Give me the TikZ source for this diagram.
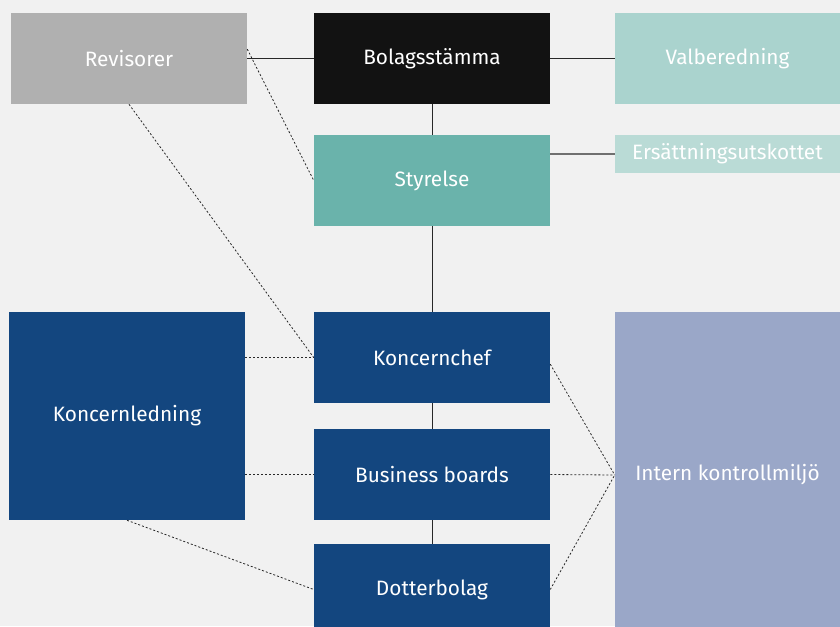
\documentclass[tikz,border=0pt]{standalone}
\usepackage{fontspec}
\setmainfont{Fira Sans}
\usepackage{xcolor}
\usepackage{tikz}
\usetikzlibrary{calc,positioning}

\definecolor{bgc}{RGB}{241,241,241}
\definecolor{revc}{RGB}{176,176,176}
\definecolor{bolc}{RGB}{18,18,18}
\definecolor{valc}{RGB}{170,211,206}
\definecolor{styc}{RGB}{106,179,171}
\definecolor{ersc}{RGB}{186,219,214}
\definecolor{navyc}{RGB}{19,70,127}
\definecolor{ikmc}{RGB}{154,167,200}

\tikzset{
  orgbox/.style={inner sep=0pt, minimum width=177pt, minimum height=68.25pt,
    text=white, font=\fontsize{15.6}{18}\selectfont},
  solidline/.style={draw={rgb,255:red,40;green,40;blue,40}, line width=0.75pt},
  greyline/.style={draw={rgb,255:red,112;green,112;blue,112}, line width=1.2pt},
  dotline/.style={draw={rgb,255:red,40;green,40;blue,40}, line width=0.6pt, dash pattern=on 1.5pt off 1.5pt}
}

\begin{document}
\begin{tikzpicture}[x=0.75pt,y=0.75pt,yscale=-1,xscale=1]
\clip (0,0) rectangle (840,626);
\fill [bgc] (0,0) rectangle (840,626);

%Shape: Rectangle [top row]
\node [orgbox, fill=revc] (rev) at (129,58.5) {Revisorer};
\node [orgbox, fill=bolc] (bol) at (432,58.5) {Bolagsstämma};
\node [orgbox, fill=valc, minimum width=168.75pt] (val) at (727.5,58.5) {Valberedning};
%Shape: Rectangle [board]
\node [orgbox, fill=styc] (sty) at (432,180.5) {Styrelse};
\node [orgbox, fill=ersc, minimum width=168.75pt, minimum height=28.5pt] (ers) at (727.5,154) {Ersättningsutskottet};
%Shape: Rectangle [management]
\node [orgbox, fill=navyc] (kch) at (432,357.5) {Koncernchef};
\node [orgbox, fill=navyc, minimum height=156pt] (kl) at (127,416) {Koncernledning};
\node [orgbox, fill=navyc] (bb) at (432,474.5) {Business boards};
\node [orgbox, fill=navyc] (dot) at (432,589.5) {Dotterbolag};
\node [orgbox, fill=ikmc, minimum width=168.75pt, minimum height=244.5pt] (ikm) at (727.5,475) {Intern kontrollmiljö};

%Straight Lines
\draw [solidline] (rev.east) -- (bol.west);
\draw [solidline] (bol.east) -- (val.west);
\draw [solidline] (bol.south) -- (sty.north);
\draw [greyline] (ers.west -| sty.east) -- (ers.west);
\draw [solidline] (sty.south) -- (kch.north);
\draw [solidline] (kch.south) -- (bb.north);
\draw [solidline] (bb.south) -- (dot.north);

%Dotted Lines
\draw [dotline] ([yshift=-7pt]rev.east) -- (sty.west);
\draw [dotline] (rev.south) -- (kch.west);
\draw [dotline] (kch.west -| kl.east) -- (kch.west);
\draw [dotline] (bb.west -| kl.east) -- (bb.west);
\draw [dotline] (kl.south) -- (dot.west);
\draw [dotline] ([yshift=5pt]kch.east) -- (ikm.west);
\draw [dotline] (bb.east) -- (ikm.west);
\draw [dotline] (dot.east) -- (ikm.west);

\end{tikzpicture}
\end{document}
